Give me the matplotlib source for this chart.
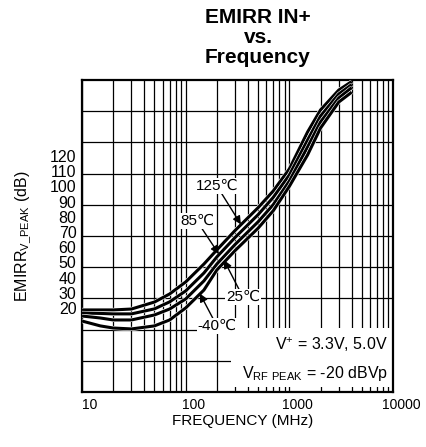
import matplotlib
matplotlib.use("Agg")
import matplotlib.pyplot as plt
import matplotlib.patheffects as pe
import matplotlib.transforms as mtransforms
from matplotlib.patches import Rectangle
import numpy as np

plt.rcParams["font.family"] = ["Liberation Sans", "DejaVu Sans"]
plt.rcParams["mathtext.fontset"] = "custom"
plt.rcParams["mathtext.rm"] = "Liberation Sans"

# frequency (MHz) and EMIRR (dB)
freq = [10, 15, 20, 30, 50, 70, 100, 150, 200, 300, 500, 700, 1000, 1500, 2000, 3000, 4000]
emirr_125 = [18.7, 18.7, 18.7, 19.3, 23.9, 29.2, 37.1, 48.9, 58.2, 71.0, 86.0, 97.0, 111.5, 135.8, 150.3, 163.4, 169.0]
emirr_85 = [16.7, 16.4, 16.1, 16.1, 19.4, 24.0, 31.2, 43.0, 53.6, 66.4, 81.4, 92.8, 107.5, 130.5, 146.3, 160.8, 167.0]
emirr_25 = [14.7, 13.4, 12.1, 12.1, 15.4, 19.3, 25.9, 37.8, 48.9, 61.8, 76.7, 88.0, 103.5, 125.9, 142.4, 158.2, 165.0]
emirr_m40 = [11.4, 8.2, 6.8, 6.2, 8.2, 12.1, 20.0, 31.8, 45.0, 57.8, 72.5, 84.0, 100.0, 120.7, 138.4, 155.5, 162.0]

y_ticks = [20, 30, 40, 50, 60, 70, 80, 90, 100, 110, 120]
x_ticks = [10, 100, 1000, 10000]
x_labels = ["10", "100", "1000", "10000"]
YLIM = (-35.3, 170.0)

fig = plt.figure(figsize=(4.27, 4.47), dpi=100)
ax = fig.add_axes([82 / 427, 1 - 392 / 447, 311 / 427, 312 / 447])

ax.set_xscale("log")
ax.set_xlim(10, 10000)
ax.set_ylim(*YLIM)

# grid: log verticals, 10 evenly spaced horizontal bands (not tied to labels)
ax.set_xticks(x_ticks)
ax.set_xticklabels(x_labels, fontsize=10)
ax.xaxis.set_minor_locator(matplotlib.ticker.LogLocator(subs=np.arange(2, 10)))
ax.xaxis.set_minor_formatter(matplotlib.ticker.NullFormatter())
ax.set_yticks(y_ticks)
ax.set_yticklabels([str(v) for v in y_ticks], fontsize=11.5)
ax.set_yticks(np.linspace(YLIM[0], YLIM[1], 11)[1:-1], minor=True)
ax.tick_params(which="both", length=0)
ax.tick_params(axis="x", pad=4)
ax.tick_params(axis="y", pad=4)
ax.grid(axis="x", which="both", color="black", lw=0.9)
ax.grid(axis="y", which="minor", color="black", lw=0.9)
ax.set_axisbelow(True)
for s in ax.spines.values():
    s.set_linewidth(1.6)

offset = mtransforms.ScaledTranslation(8 / 100, 0, fig.dpi_scale_trans)
for lab in ax.get_xticklabels():
    lab.set_transform(lab.get_transform() + offset)

ax.set_xlabel("FREQUENCY (MHz)", fontsize=11)
ax.xaxis.set_label_coords(0.516, -0.071)
ax.set_ylabel(r"EMIRR$_{\mathrm{V\_PEAK}}$ (dB)", fontsize=11.5)
ax.yaxis.set_label_coords(-0.156, 0.5)

# white area for the conditions text
ax.add_patch(Rectangle((0.479, 0.016), 0.52, 0.19, transform=ax.transAxes,
                       facecolor="white", edgecolor="none", zorder=1))

halo = [pe.Stroke(linewidth=3.0, foreground="white"), pe.Normal()]
for series in [emirr_125, emirr_85, emirr_25, emirr_m40]:
    ax.plot(freq, series, color="black", lw=2.2, zorder=3,
            solid_capstyle="butt", path_effects=halo)

box = dict(facecolor="white", edgecolor="none", pad=0.5)
arrow = dict(arrowstyle="-|>", color="black", lw=1.0, mutation_scale=12,
             shrinkA=0, shrinkB=0)
labels = [("125℃", (200, 100.3), (341, 75.0)),
          ("85℃", (128.5, 77.2), (209, 55.5)),
          ("25℃", (357, 27.2), (234, 51.5)),
          ("-40℃", (200, 8.2), (137, 29.5))]
for txt, xytext, xy in labels:
    ax.annotate(txt, xy=xy, xytext=xytext, fontsize=11, ha="center", va="center",
                bbox=box, arrowprops=arrow, zorder=5)

ax.text(0.984, 0.135, r"V$^{+}$ = 3.3V, 5.0V", transform=ax.transAxes,
        fontsize=11.5, ha="right", va="baseline", zorder=5)
ax.text(0.984, 0.045, r"V$_{\mathrm{RF\ PEAK}}$ = -20 dBVp", transform=ax.transAxes,
        fontsize=11.5, ha="right", va="baseline", zorder=5)

for line, yb in [("EMIRR IN+", 23), ("vs.", 43), ("Frequency", 63)]:
    fig.text(258 / 427, 1 - yb / 447, line, fontsize=15, fontweight="bold",
             ha="center", va="baseline")

fig.savefig("out.png", dpi=100)
